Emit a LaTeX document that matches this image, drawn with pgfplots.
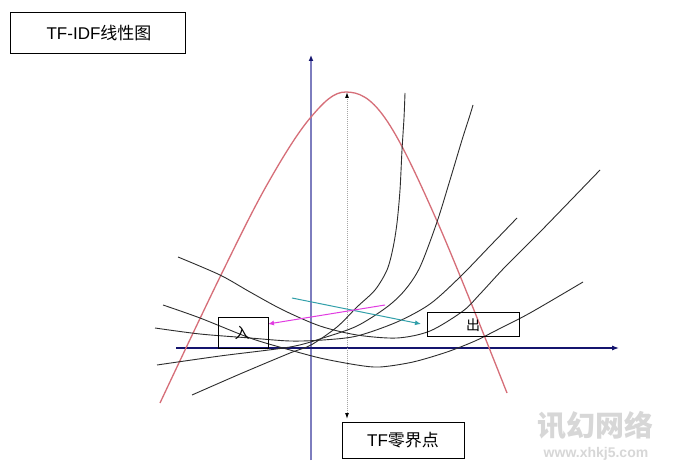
\documentclass[border=0pt]{standalone}
\usepackage{pgfplots}
\pgfplotsset{compat=1.18}
\usepackage{fontspec}
\setmainfont{Liberation Sans}
\newfontfamily\cjk{Noto Sans CJK SC}
\usetikzlibrary{arrows.meta}
\definecolor{redc}{RGB}{214,110,120}
\definecolor{vaxis}{RGB}{125,125,190}
\definecolor{haxis}{RGB}{20,20,110}
\definecolor{cyanc}{RGB}{50,160,170}
\definecolor{magc}{RGB}{225,60,225}
\definecolor{curvec}{RGB}{45,45,45}
\definecolor{dotc}{RGB}{165,165,165}
\definecolor{wm}{RGB}{215,215,215}
\begin{document}
\begin{tikzpicture}
\begin{axis}[width=678pt,height=473pt,scale only axis,
  xmin=0,xmax=678,ymin=0,ymax=473,y dir=reverse,hide axis,clip=false]
% background
\fill[white] (axis cs:0,0) rectangle (axis cs:678,473);
% axes
\addplot[vaxis,line width=1.8pt,-{Latex[length=6pt,width=5pt,color=haxis]}] coordinates {(311,460) (311,55)};
\addplot[haxis,line width=1.1pt,-{Latex[length=7pt,width=5pt]}] coordinates {(176,348) (619,348)};
% dotted double arrow
\addplot[dotc,line width=1pt,densely dotted,{Latex[length=6pt,width=4pt,color=black]}-{Latex[length=6pt,width=4pt,color=black]}] coordinates {(347,92) (347,419)};
% red curve
\addplot[redc,line width=1.3pt,smooth,tension=0.6] coordinates {
(160,403) (220,277) (268,183) (311,117) (346,92) (385,118) (437,221) (507,393)};
% curve A (steepest)
\addplot[curvec,line width=0.9pt,smooth,tension=0.5] coordinates {
(192,395) (240,374) (290,353) (311,345) (337,327) (357,307) (375,290) (387,270) (393,248) (397,223) (400,190) (402,150) (404,118) (405,93)};
% curve B
\addplot[curvec,line width=0.9pt,smooth,tension=0.5] coordinates {
(157,365) (220,356) (290,347) (323,338) (357,326) (387,307) (405,290) (420,267) (437,222) (450,180) (462,140) (470,115) (473,105)};
% curve H -> C
\addplot[curvec,line width=0.9pt,smooth,tension=0.5] coordinates {
(155,328) (200,334) (250,338) (290,341) (323,340) (357,336) (397,322) (430,304) (460,277) (490,246) (517,218)};
% curve F -> D
\addplot[curvec,line width=0.9pt,smooth,tension=0.5] coordinates {
(178,257) (220,275) (250,292) (283,310) (320,326) (357,335) (397,338) (430,331) (463,311) (480,294) (505,267) (540,232) (600,170)};
% curve G -> E
\addplot[curvec,line width=0.9pt,smooth,tension=0.5] coordinates {
(163,305) (200,318) (250,338) (283,348) (320,358) (357,365) (380,367) (413,362) (447,352) (475,341) (497,330) (530,313) (583,282)};
% cyan and magenta arrows
\addplot[cyanc,line width=1pt,-{Latex[length=6pt,width=5pt]}] coordinates {(292,298) (421,324)};
\addplot[magc,line width=1pt,-{Latex[length=6pt,width=5pt]}] coordinates {(385,305) (268,324)};
% boxes
\draw[black,line width=0.9pt] (axis cs:218,317) rectangle (axis cs:268,348);
\node[font=\cjk\fontsize{15}{15}\selectfont] at (axis cs:242,333) {入};
\draw[black,line width=0.9pt] (axis cs:427,312) rectangle (axis cs:519,336);
\node[font=\cjk\fontsize{14}{14}\selectfont] at (axis cs:473,325) {出};
\draw[black,line width=0.9pt] (axis cs:10,12) rectangle (axis cs:185,53);
\node[font=\fontsize{17}{17}\selectfont] at (axis cs:99,33) {TF-IDF{\cjk 线性图}};
\draw[black,line width=0.9pt,fill=white] (axis cs:342,422) rectangle (axis cs:464,458);
\node[font=\fontsize{17}{17}\selectfont] at (axis cs:403,440) {TF{\cjk 零界点}};
% watermark
\node[wm,font=\cjk\bfseries\fontsize{29}{29}\selectfont] at (axis cs:595,426) {讯幻网络};
\node[wm,font=\bfseries\fontsize{14}{14}\selectfont] at (axis cs:596,454) {www.xhkj5.com};
\end{axis}
\end{tikzpicture}
\end{document}
